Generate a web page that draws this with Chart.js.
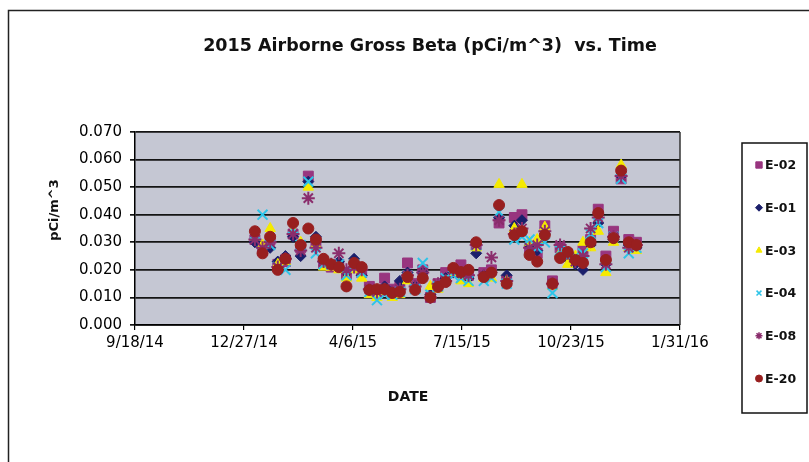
<!DOCTYPE html>
<html>
<head>
<meta charset="utf-8">
<script src="https://cdn.jsdelivr.net/npm/chart.js@4.4.1/dist/chart.umd.min.js"></script>
<style>
  html, body { margin: 0; padding: 0; background: #fff; }
  #wrap { width: 809px; height: 462px; }
</style>
</head>
<body>
<div id="wrap"><canvas id="betaChart" width="809" height="462"></canvas></div>
<script>
// weekly filter change dates
const dates = [
  '2015-01-06','2015-01-13','2015-01-20','2015-01-27','2015-02-03','2015-02-10','2015-02-17','2015-02-24',
  '2015-03-03','2015-03-10','2015-03-17','2015-03-24','2015-03-31','2015-04-07','2015-04-14','2015-04-21',
  '2015-04-28','2015-05-05','2015-05-12','2015-05-19','2015-05-26','2015-06-02','2015-06-09','2015-06-16',
  '2015-06-23','2015-06-30','2015-07-07','2015-07-14','2015-07-21','2015-07-28','2015-08-04','2015-08-11',
  '2015-08-18','2015-08-25','2015-09-01','2015-09-08','2015-09-15','2015-09-22','2015-09-29','2015-10-06',
  '2015-10-13','2015-10-20','2015-10-27','2015-11-03','2015-11-10','2015-11-17','2015-11-24','2015-12-01',
  '2015-12-08','2015-12-15','2015-12-22'
];

// pCi/m^3 per station
const e02 = [.031,.027,.031,.022,.023,.033,.028,.054,.030,.022,.021,.022,.018,.021,.019,.014,
  .012,.017,.013,.014,.0225,.015,.020,.010,.015,.019,.020,.0218,.018,.029,.019,.020,
  .037,.016,.039,.040,.028,.026,.036,.016,.028,.025,.024,.027,.031,.042,.025,.034,
  .053,.031,.030];
const e01 = [.030,.028,.028,.023,.025,.032,.025,.052,.032,.023,.022,.023,.019,.024,.018,.013,
  .011,.014,.012,.016,.019,.014,.019,.011,.014,.017,.019,.018,.017,.026,.018,.019,
  .039,.018,.036,.038,.029,.027,.033,.015,.025,.024,.022,.020,.029,.037,.022,.031,
  .054,.029,.028];
const e03 = [.032,.029,.035,.022,.023,.034,.030,.050,.029,.021,.021,.020,.017,.020,.017,.011,
  .010,.012,.010,.011,.016,.013,.018,.014,.013,.016,.019,.016,.015,.028,.017,.017,
  .051,.016,.035,.051,.030,.031,.0355,.014,.026,.022,.025,.030,.028,.034,.019,.030,
  .058,.028,.027];
const e04 = [.033,.040,.029,.021,.020,.035,.029,.052,.026,.022,.022,.022,.018,.022,.019,.012,
  .009,.011,.011,.012,.018,.013,.0225,.011,.014,.017,.018,.017,.016,.029,.016,.017,
  .041,.015,.031,.032,.031,.028,.030,.0116,.027,.025,.025,.026,.033,.037,.021,.032,
  .053,.026,.028];
const e08 = [.031,.028,.030,.021,.024,.033,.027,.046,.028,.023,.022,.026,.020,.021,.020,.013,
  .012,.013,.012,.013,.018,.014,.019,.010,.015,.016,.020,.019,.018,.029,.018,.0245,
  .038,.016,.033,.035,.028,.029,.034,.015,.029,.026,.023,.025,.035,.039,.022,.032,
  .054,.028,.029];
const e20 = [.034,.026,.032,.020,.024,.037,.029,.035,.031,.024,.022,.021,.014,.0225,.021,.0127,
  .013,.013,.0116,.012,.0174,.0127,.017,.010,.0138,.0156,.0207,.0192,.020,.030,.0174,.019,
  .0435,.015,.0326,.034,.0254,.023,.0326,.015,.0243,.0265,.0236,.0225,.030,.0406,.0236,.0315,
  .056,.030,.029];

const xTickLabels = ['9/18/14', '12/27/14', '4/6/15', '7/15/15', '10/23/15', '1/31/16'];

// x axis runs in days counted from 9/18/14
const origin = Date.UTC(2014, 8, 18);
const dayOf = d => (Date.parse(d) - origin) / 86400000;
const pts = vals => vals.map((v, i) => ({ x: dayOf(dates[i]), y: v }));

Chart.defaults.font.family = '"DejaVu Sans", sans-serif';
Chart.defaults.color = '#000';

const series = [
  { label: 'E-02', data: pts(e02), pointStyle: 'rect',     radius: 7,   color: '#98357f', bw: 1, order: 5 },
  { label: 'E-01', data: pts(e01), pointStyle: 'rectRot',  radius: 5.5, color: '#1b1f6b', bw: 1, order: 4 },
  { label: 'E-03', data: pts(e03), pointStyle: 'triangle', radius: 6,   color: '#f5ea00', bw: 1, order: 3 },
  { label: 'E-04', data: pts(e04), pointStyle: 'crossRot', radius: 7,   color: '#2ec4e8', bw: 2, order: 2 },
  { label: 'E-08', data: pts(e08), pointStyle: 'star',     radius: 6.5, color: '#8a2d6c', bw: 2, order: 1 },
  { label: 'E-20', data: pts(e20), pointStyle: 'circle',   radius: 5.5, color: '#981f1f', bw: 1, order: 0 }
];

const frame = {
  id: 'frame',
  beforeDraw(chart) {
    const { ctx, chartArea: a } = chart;
    ctx.save();
    ctx.fillStyle = '#fff';
    ctx.fillRect(0, 0, chart.width, chart.height);
    // outer chart border
    ctx.strokeStyle = '#222';
    ctx.lineWidth = 1.5;
    ctx.beginPath();
    ctx.moveTo(8.5, 462);
    ctx.lineTo(8.5, 10.5);
    ctx.lineTo(809, 10.5);
    ctx.stroke();
    // plot area
    ctx.fillStyle = '#c5c7d3';
    ctx.fillRect(a.left, a.top, a.right - a.left, a.bottom - a.top);
    ctx.restore();
  },
  beforeDatasetsDraw(chart) {
    const { ctx, chartArea: a } = chart;
    ctx.save();
    ctx.strokeStyle = '#333';
    ctx.lineWidth = 1.5;
    ctx.beginPath();
    ctx.moveTo(a.right, a.top);
    ctx.lineTo(a.right, a.bottom);
    ctx.stroke();
    ctx.restore();
  },
  afterDraw(chart) {
    const ctx = chart.ctx;
    ctx.save();
    ctx.fillStyle = '#111';
    ctx.textAlign = 'center';
    ctx.textBaseline = 'middle';
    ctx.font = 'bold 17.5px "DejaVu Sans"';
    ctx.fillText('2015 Airborne Gross Beta (pCi/m^3)  vs. Time', 430, 46);
    ctx.font = 'bold 14px "DejaVu Sans"';
    ctx.fillText('DATE', 408, 397);
    ctx.save();
    ctx.translate(55, 210);
    ctx.rotate(-Math.PI / 2);
    ctx.font = 'bold 13px "DejaVu Sans"';
    ctx.fillText('pCi/m^3', 0, 0);
    ctx.restore();

    // legend box
    ctx.strokeStyle = '#111';
    ctx.lineWidth = 1.5;
    ctx.strokeRect(742, 143, 65, 270);
    ctx.textAlign = 'left';
    ctx.font = 'bold 12.5px "DejaVu Sans"';
    series.forEach((s, i) => {
      const y = 165 + i * 42.7;
      ctx.fillStyle = s.color;
      ctx.strokeStyle = s.color;
      ctx.lineWidth = s.bw === 2 ? 1.5 : 1;
      Chart.helpers.drawPoint(ctx, { pointStyle: s.pointStyle, radius: s.pointStyle === 'rect' ? 4.5 : 3.5, rotation: 0, borderWidth: ctx.lineWidth }, 759, y);
      ctx.fillStyle = '#111';
      ctx.fillText(s.label, 765, y + 1);
    });
    ctx.restore();
  }
};

new Chart(document.getElementById('betaChart'), {
  type: 'scatter',
  data: {
    datasets: series.map(s => ({
      label: s.label,
      data: s.data,
      order: s.order,
      pointStyle: s.pointStyle,
      pointRadius: s.radius,
      pointBackgroundColor: s.color,
      pointBorderColor: s.color,
      pointBorderWidth: s.bw,
      showLine: false
    }))
  },
  options: {
    responsive: false,
    animation: false,
    layout: { padding: { top: 132, right: 129, left: 0, bottom: 0 } },
    plugins: { legend: { display: false }, title: { display: false }, tooltip: { enabled: false } },
    scales: {
      x: {
        type: 'linear',
        min: 0,
        max: 500,
        afterFit: s => { s.height = 137; },
        border: { display: true, color: '#000', width: 1.5 },
        grid: { drawOnChartArea: false, drawTicks: true, tickLength: 5, color: '#000', lineWidth: 1.2 },
        ticks: {
          stepSize: 100,
          padding: 4,
          maxRotation: 0,
          font: { size: 15 },
          callback: (v, i) => xTickLabels[i]
        }
      },
      y: {
        min: 0,
        max: 0.07,
        afterFit: s => { s.width = 135; },
        border: { display: true, color: '#000', width: 1.5 },
        grid: { color: '#141414', lineWidth: 1.7, tickLength: 5, drawTicks: true },
        ticks: {
          stepSize: 0.01,
          padding: 8,
          font: { size: 15 },
          callback: v => v.toFixed(3)
        }
      }
    }
  },
  plugins: [frame]
});
</script>
</body>
</html>
